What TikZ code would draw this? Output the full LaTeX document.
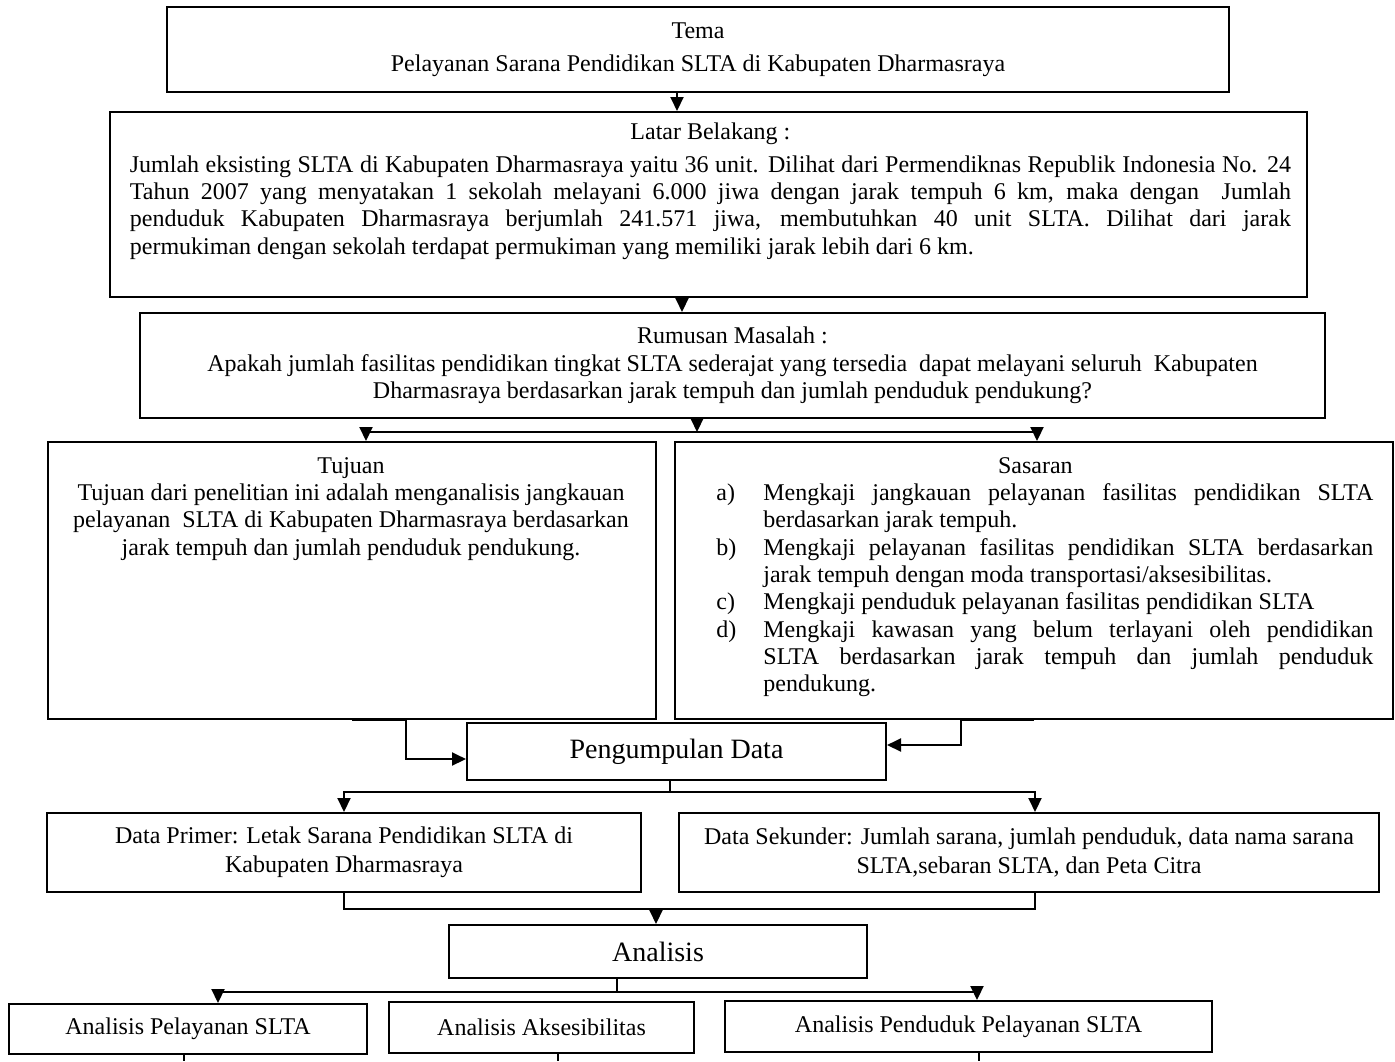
\documentclass[tikz,border=0pt]{standalone}
\usepackage{fontspec}
\setmainfont{Liberation Serif}
\usetikzlibrary{arrows.meta,positioning}

\tikzset{
  box/.style={draw, line width=1pt, inner sep=0pt, align=center},
  arr/.style={line width=1pt, -{Triangle[length=7pt,width=6.5pt]}},
  ln/.style={line width=1pt},
  txt/.style={inner sep=0pt, font=\fontsize{12}{13.65}\selectfont},
}
\newcommand{\butir}[2]{\par\hangindent=23.5pt\hangafter=1\noindent\makebox[23.5pt][l]{#1}#2\par}

\begin{document}
\begin{tikzpicture}[x=0.5pt,y=-0.5pt]
  \useasboundingbox (0,0) rectangle (1395,1061);

  % tema, latar belakang, rumusan
  \node[box, txt, minimum width=531pt, minimum height=42.5pt, font=\fontsize{12}{16.5}\selectfont] (tema) at (698,49.5)
    {Tema\\Pelayanan Sarana Pendidikan SLTA di Kabupaten Dharmasraya};

  \node[box, minimum width=598.5pt, minimum height=92.5pt] (latar) at (708.5,204.5) {};
  \node[txt, anchor=north west, text width=580.5pt, align=justify] (latartxt) at (129.5,122) {%
    {\centering Latar Belakang :\par}\vspace{3pt}
    Jumlah eksisting SLTA di Kabupaten Dharmasraya yaitu 36 unit. Dilihat dari Permendiknas Republik Indonesia No. 24\linebreak
    Tahun 2007 yang menyatakan 1 sekolah melayani 6.000 jiwa dengan jarak tempuh 6 km, maka dengan\ \ Jumlah\linebreak
    penduduk Kabupaten Dharmasraya berjumlah 241.571 jiwa, membutuhkan 40 unit SLTA. Dilihat dari jarak\linebreak
    permukiman dengan sekolah terdapat permukiman yang memiliki jarak lebih dari 6 km.};

  \node[box, txt, minimum width=592.5pt, minimum height=52.5pt] (rumusan) at (732.5,365.5)
    {Rumusan Masalah :\\Apakah jumlah fasilitas pendidikan tingkat SLTA sederajat yang tersedia\ \ dapat melayani seluruh\ \ Kabupaten\\Dharmasraya berdasarkan jarak tempuh dan jumlah penduduk pendukung?};

  % tujuan dan sasaran
  \node[box, minimum width=304pt, minimum height=138.5pt] (tujuan) at (352,580.5) {};
  \node[txt, anchor=north, align=center] (tujuantxt) at (351,457)
    {Tujuan\\Tujuan dari penelitian ini adalah menganalisis jangkauan\\pelayanan\ \ SLTA di Kabupaten Dharmasraya berdasarkan\\jarak tempuh dan jumlah penduduk pendukung.};

  \node[box, minimum width=359pt, minimum height=138.5pt] (sasaran) at (1034,580.5) {};
  \node[txt, anchor=north west, text width=328.5pt, align=justify] (sasarantxt) at (716,457) {%
    {\centering Sasaran\hspace*{9.5pt}\par}
    \butir{a)}{Mengkaji jangkauan pelayanan fasilitas pendidikan SLTA\linebreak berdasarkan jarak tempuh.}
    \butir{b)}{Mengkaji pelayanan fasilitas pendidikan SLTA berdasarkan\linebreak jarak tempuh dengan moda transportasi/aksesibilitas.}
    \butir{c)}{Mengkaji penduduk pelayanan fasilitas pendidikan SLTA}
    \butir{d)}{Mengkaji kawasan yang belum terlayani oleh pendidikan\linebreak SLTA berdasarkan jarak tempuh dan jumlah penduduk\linebreak pendukung.}};

  % data
  \node[box, minimum width=209.5pt, minimum height=28.5pt, font=\fontsize{14}{16}\selectfont] (kumpul) at (676.5,751.5) {Pengumpulan Data};
  \node[box, txt, minimum width=297pt, minimum height=39.5pt, font=\fontsize{12}{14.5}\selectfont] (primer) at (344,852.5)
    {Data Primer: Letak Sarana Pendidikan SLTA di\\Kabupaten Dharmasraya};
  \node[box, txt, minimum width=350pt, minimum height=39.5pt, font=\fontsize{12}{14.5}\selectfont] (sekunder) at (1029,852.5)
    {Data Sekunder: Jumlah sarana, jumlah penduduk, data nama sarana\\SLTA,sebaran SLTA, dan Peta Citra};

  % analisis
  \node[box, minimum width=209pt, minimum height=26.5pt, font=\fontsize{14}{16}\selectfont] (analisis) at (658,951.5) {Analisis};
  \node[box, txt, minimum width=179pt, minimum height=25pt] (pelayanan) at (188,1029) {Analisis Pelayanan SLTA};
  \node[box, txt, minimum width=152.5pt, minimum height=25.5pt] (aksesibilitas) at (541.5,1027.5) {Analisis Aksesibilitas};
  \node[box, txt, minimum width=243.5pt, minimum height=25.5pt] (penduduk) at (968.5,1026.5) {Analisis Penduduk Pelayanan SLTA};

  % junctions
  \coordinate (j1) at (697,432);
  \coordinate (j2) at (670,792);
  \coordinate (j3) at (656,909);
  \coordinate (j4) at (617,992);
  \coordinate (bawah) at (0,1061);

  % connectors
  \draw[arr] ([xshift=-10.5pt]tema.south) -- ([xshift=-15.75pt]latar.north);
  \draw[arr] ([xshift=-13.25pt]latar.south) -- ([xshift=-25.25pt]rumusan.north);
  \draw[arr] (rumusan.south -| j1) -- (j1);
  \draw[arr] (j1) -| ([xshift=7pt]tujuan.north);
  \draw[arr] (j1) -| ([xshift=1.5pt]sasaran.north);
  \draw[arr] (tujuan.south) -- ++(54,0) |- ([yshift=-3.75pt]kumpul.west);
  \draw[arr] (sasaran.south) -- ++(-73,0) |- ([yshift=3.25pt]kumpul.east);
  \draw[ln] (kumpul.south -| j2) -- (j2);
  \draw[arr] (j2) -| (primer.north);
  \draw[arr] (j2) -| ([xshift=3pt]sekunder.north);
  \draw[ln] (primer.south) |- (j3);
  \draw[ln] ([xshift=3pt]sekunder.south) |- (j3);
  \draw[arr] (j3) -- (analisis.north -| j3);
  \draw[ln] (analisis.south -| j4) -- (j4);
  \draw[arr] (j4) -| ([xshift=15pt]pelayanan.north);
  \draw[arr] (j4) -| ([xshift=4.25pt]penduduk.north);
  \foreach \n/\dx in {pelayanan/-2pt, aksesibilitas/8.25pt, penduduk/5.25pt}
    \draw[ln] ([xshift=\dx]\n.south) -- ([xshift=\dx]\n.south |- bawah);
\end{tikzpicture}
\end{document}
